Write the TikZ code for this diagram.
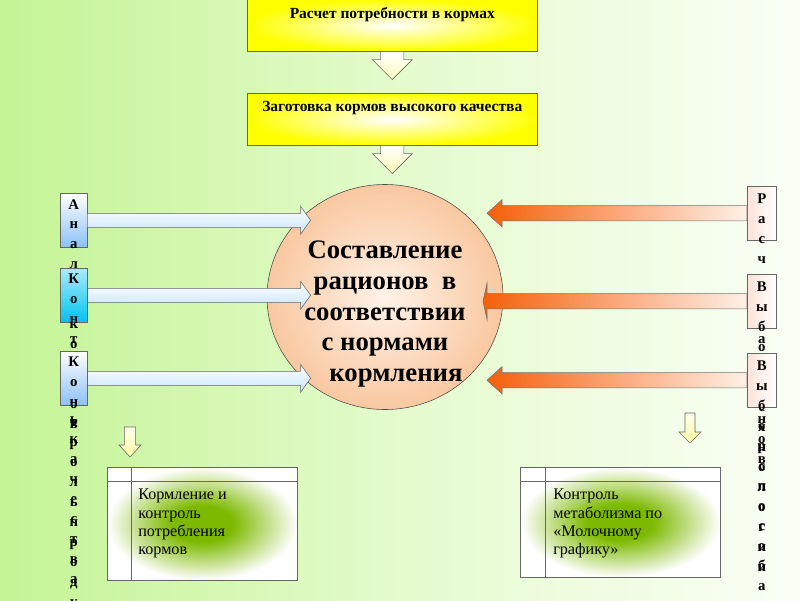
\documentclass[tikz,border=0pt]{standalone}
\usepackage{fontspec}
\setmainfont{Liberation Serif}
\usepackage{tikz}
\usetikzlibrary{calc,positioning,shapes.geometric}

\definecolor{bgleft}{RGB}{196,244,148}
\definecolor{bgmid}{RGB}{228,251,205}
\definecolor{bgright}{RGB}{250,255,246}
\definecolor{boxyellow}{RGB}{255,255,0}
\definecolor{peach}{RGB}{249,200,160}
\definecolor{peachin}{RGB}{255,242,232}
\definecolor{skybox}{RGB}{140,192,245}
\definecolor{skyarr}{RGB}{200,228,250}
\definecolor{cyantop}{RGB}{170,235,252}
\definecolor{cyanbox}{RGB}{0,195,240}
\definecolor{rustor}{RGB}{245,95,10}
\definecolor{rustpale}{RGB}{255,240,230}
\definecolor{pinkbox}{RGB}{252,226,216}
\definecolor{leafgreen}{RGB}{125,185,0}

\pgfdeclareradialshading{noteglow}{\pgfpointorigin}{color(0bp)=(leafgreen);
  color(8bp)=(leafgreen);color(25bp)=(white);color(50bp)=(white)}

% block arrows: style, tail, tip, shaft half, head half, head length
\newcommand{\hblock}[6]{%
  \path[#1] let \p1=(#2), \p2=(#3), \n1={sign(\x2-\x1)} in
    (\x1,{\y2+#4}) -- ({\x2-\n1*#6},{\y2+#4}) -- ({\x2-\n1*#6},{\y2+#5}) -- (\p2)
    -- ({\x2-\n1*#6},{\y2-#5}) -- ({\x2-\n1*#6},{\y2-#4}) -- (\x1,{\y2-#4}) -- cycle;}
\newcommand{\vblock}[6]{%
  \path[#1] let \p1=(#2), \p2=(#3), \n1={sign(\y2-\y1)} in
    ({\x2+#4},\y1) -- ({\x2+#4},{\y2-\n1*#6}) -- ({\x2+#5},{\y2-\n1*#6}) -- (\p2)
    -- ({\x2-#5},{\y2-\n1*#6}) -- ({\x2-#4},{\y2-\n1*#6}) -- ({\x2-#4},\y1) -- cycle;}

\begin{document}
\begin{tikzpicture}[x=0.25mm,y=-0.25mm,line join=miter,
  topbox/.style={draw=black!60,inner color=white,outer color=boxyellow,
    minimum width=72.5mm,minimum height=13mm,anchor=north west,inner sep=0pt},
  toptext/.style={font=\bfseries\fontsize{11}{13}\selectfont,inner sep=0pt},
  downarr/.style={draw=black!60,top color=white,bottom color=yellow!28},
  ration/.style={ellipse,draw=black!70,inner color=peachin,outer color=peach,
    minimum width=59mm,minimum height=56.25mm,inner sep=0pt},
  rationtext/.style={font=\bfseries\fontsize{19}{22}\selectfont,align=center,inner sep=0pt},
  inarr/.style={draw=black!60,top color=white,bottom color=skyarr},
  outarr/.style={draw=black!55,left color=rustor,right color=rustpale},
  sidebox/.style={draw=black!60,minimum width=6.75mm,minimum height=13.5mm,
    anchor=north west,inner sep=0pt},
  rbox/.style={sidebox,minimum width=7.25mm,left color=pinkbox,right color=white},
  letters/.style={font=\bfseries\fontsize{10.5}{14.2}\selectfont,align=center,inner sep=0pt},
  smallarr/.style={draw=black!60,top color=yellow!8,bottom color=yellow!35},
  notebox/.style={draw=black!60,shading=noteglow,anchor=north west,inner sep=0pt},
  noteline/.style={draw=black!60,thin},
  notetext/.style={font=\fontsize{11.5}{13}\selectfont,align=left,inner sep=0pt}]
% background
\path[use as bounding box] (0,0) rectangle (800,600);
\clip (0,0) rectangle (800,600);
\shade[left color=bgleft,right color=bgright,middle color=bgmid] (0,0) rectangle (800,600);
% top chain
\node[topbox] (need) at (247,-1) {};
\node[toptext,below=2mm of need.north] {Расчет потребности в кормах};
\coordinate (needtip) at ($(need.south)+(0,28)$);
\vblock{downarr}{need.south}{needtip}{2.9mm}{5mm}{5mm}
\node[topbox] (stock) at (247,93) {};
\node[toptext,below=2mm of stock.north] {Заготовка кормов высокого качества};
\coordinate (stocktip) at ($(stock.south)+(0,28)$);
\vblock{downarr}{stock.south}{stocktip}{2.9mm}{5mm}{5mm}
% ration
\node[ration] (ration) at (385,297) {};
\node[rationtext] (rationtxt) at ($(ration.center)+(0,17)$)
  {Составление\\рационов\ \ в\\соответствии\\с нормами\\\hspace*{5.5mm}кормления};
% left side
\node[sidebox,top color=white,bottom color=skybox] (la1) at (60,193) {};
\node[sidebox,top color=white,bottom color=skybox] (la2) at (60,268) {};
\node[sidebox,top color=white,bottom color=skybox] (la3) at (60,351) {};
\coordinate (lt1) at ($(la1.east)+(223,0)$);
\coordinate (lt2) at ($(la2.east)+(223,0)$);
\coordinate (lt3) at ($(la3.east)+(223,0)$);
\hblock{inarr}{la1.east}{lt1}{1.75mm}{3.5mm}{2.5mm}
\hblock{inarr}{la2.east}{lt2}{1.75mm}{3.5mm}{2.5mm}
\hblock{inarr}{la3.east}{lt3}{1.75mm}{3.5mm}{2.5mm}
\node[letters,below=1.5mm of la1.north] {А\\н\\а\\л\\и\\з\\к\\о\\р\\м\\о\\в};
\node[sidebox,top color=cyantop,bottom color=cyanbox] at (la2.north west) {};
\node[letters,below=1.5mm of la2.north] {К\\о\\н\\т\\р\\о\\л\\ь\\к\\а\\ч\\е\\с\\т\\в\\а};
\node[sidebox,top color=white,bottom color=skybox] at (la3.north west) {};
\node[letters,below=1.5mm of la3.north] {К\\о\\н\\т\\р\\о\\л\\ь\\п\\р\\о\\д\\у\\к};
% right side
\node[rbox] (ra1) at (747,186) {};
\node[rbox] (ra2) at (747,274) {};
\node[rbox] (ra3) at (747,353) {};
\coordinate (rt1) at ($(ra1.west)+(-260,0)$);
\coordinate (rt2) at ($(ra2.west)+(-264,0)$);
\coordinate (rt3) at ($(ra3.west)+(-260,0)$);
\hblock{outarr}{ra1.west}{rt1}{1.9mm}{3.4mm}{3.75mm}
\hblock{outarr}{ra2.west}{rt2}{1.9mm}{4.5mm}{1mm}
\hblock{outarr}{ra3.west}{rt3}{1.9mm}{3.4mm}{3.75mm}
\node[letters,below=2mm of ra1.north] {Р\\а\\с\\ч\\е\\т\\р\\а\\ц\\и\\о\\н\\о\\в};
\node[rbox] at (ra2.north west) {};
\node[letters,below=2mm of ra2.north] {В\\ы\\б\\о\\р\\т\\е\\х\\н\\о\\л\\о\\г\\и\\и};
\node[rbox] at (ra3.north west) {};
\node[letters,below=2mm of ra3.north] {В\\ы\\б\\о\\р\\с\\п\\о\\с\\о\\б\\а\\к\\о\\р\\м};
% bottom notes
\node[notebox,minimum width=47.5mm,minimum height=28.25mm] (feed) at (107,467) {};
\draw[noteline] ([xshift=6mm]feed.north west) -- ([xshift=6mm]feed.south west);
\draw[noteline] ([yshift=-3.5mm]feed.north west) -- ([yshift=-3.5mm]feed.north east);
\node[notetext,below right=5.5mm and 7.75mm of feed.north west]
  {Кормление и\\контроль\\потребления\\кормов};
\coordinate (feedtail) at ($(feed.north west)+(23,-40)$);
\coordinate (feedtip) at ($(feed.north west)+(23,-10)$);
\vblock{smallarr}{feedtail}{feedtip}{1.4mm}{2.75mm}{3mm}
\node[notebox,minimum width=50mm,minimum height=27.5mm] (metab) at (520,467) {};
\draw[noteline] ([xshift=6.25mm]metab.north west) -- ([xshift=6.25mm]metab.south west);
\draw[noteline] ([yshift=-3.5mm]metab.north west) -- ([yshift=-3.5mm]metab.north east);
\node[notetext,below right=5.5mm and 8.25mm of metab.north west]
  {Контроль\\метаболизма по\\«Молочному\\графику»};
\coordinate (metabtail) at ($(metab.north west)+(170,-54)$);
\coordinate (metabtip) at ($(metab.north west)+(170,-24)$);
\vblock{smallarr}{metabtail}{metabtip}{1.25mm}{2.75mm}{2.75mm}
\end{tikzpicture}
\end{document}
